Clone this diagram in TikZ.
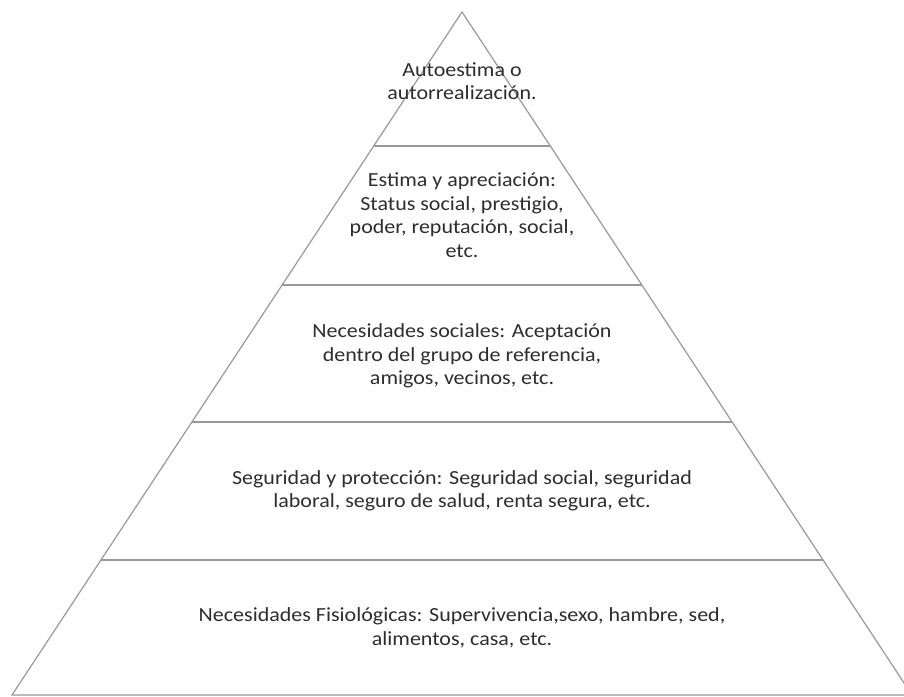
\documentclass[tikz,border=0pt]{standalone}
\usepackage{fontspec}
\setmainfont[FakeStretch=1.1]{Carlito}
\usetikzlibrary{calc}
\begin{document}
\begin{tikzpicture}[x=1pt,y=-1pt,
  edge/.style={draw=black!40, line width=1.2pt, line join=miter},
  lbl/.style={align=center, font=\fontsize{20}{23.5}\selectfont, text=black!82, inner sep=0pt}]
\useasboundingbox (0,0) rectangle (904,696);
\clip (0,0) rectangle (904,696);
\fill[white] (0,0) rectangle (904,696);
\coordinate (apex) at (462,12);
\coordinate (bl) at (12,695);
\coordinate (br) at (912,695);
\draw[edge] (bl) -- (apex) -- (br) -- cycle;
\foreach \t [count=\i] in {0.1962,0.3997,0.6003,0.8023}{
  \coordinate (l\i) at ($(apex)!\t!(bl)$);
  \coordinate (r\i) at ($(apex)!\t!(br)$);
  \draw[edge] (l\i) -- (r\i);
}
\node[lbl] (n1) at (462,81) {Autoestima o\\autorrealización.};
\node[lbl] (n2) at (462,215) {Estima y apreciación:\\Status social, prestigio,\\poder, reputación, social,\\etc.};
\node[lbl] (n3) at (462,356) {Necesidades sociales: Aceptación\\dentro del grupo de referencia,\\amigos, vecinos, etc.};
\node[lbl] (n4) at (462,491) {Seguridad y protección: Seguridad social, seguridad\\laboral, seguro de salud, renta segura, etc.};
\node[lbl] (n5) at (462,628) {Necesidades Fisiológicas: Supervivencia,sexo, hambre, sed,\\alimentos, casa, etc.};
\end{tikzpicture}
\end{document}
